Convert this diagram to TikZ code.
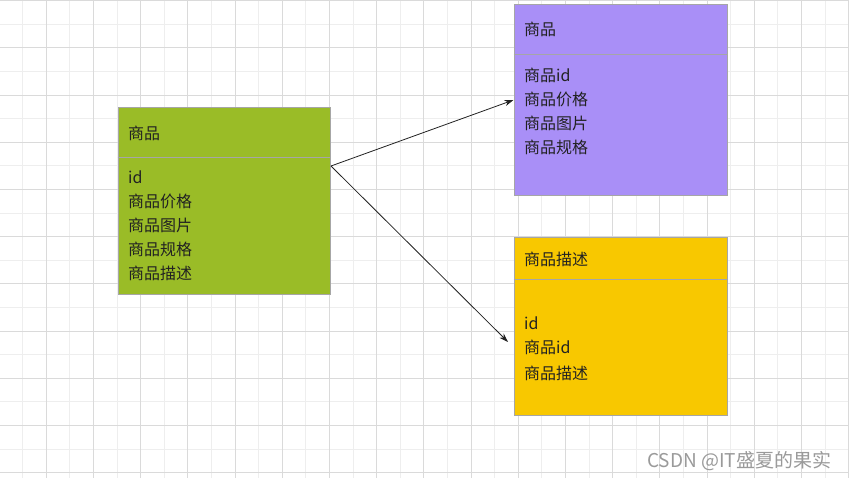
\documentclass[tikz,border=0pt]{standalone}
\usepackage{fontspec}
\setmainfont{Noto Sans CJK SC}
\usetikzlibrary{arrows.meta}
\definecolor{gmin}{HTML}{EEEEEE}
\definecolor{gmaj}{HTML}{DADADA}
\definecolor{boxgreen}{HTML}{9ABC27}
\definecolor{boxpurple}{HTML}{A98FF7}
\definecolor{boxyellow}{HTML}{F8C800}
\definecolor{boxline}{HTML}{A6A6A6}
\definecolor{txt}{HTML}{222222}
\definecolor{wm}{HTML}{9A9A9A}
\tikzset{
  minorline/.style={draw=gmin, line width=1pt},
  majorline/.style={draw=gmaj, line width=1pt},
  entity/.style={draw=boxline, line width=1pt, inner sep=0pt, anchor=north west},
  divider/.style={draw=boxline, line width=0.8pt},
  label/.style={anchor=base west, inner sep=0pt, text=txt, font=\fontsize{16}{19}\selectfont},
  link/.style={draw=txt, line width=0.8pt, -{Stealth[length=9pt,width=6pt]}},
}
\begin{document}
\begin{tikzpicture}[x=1pt,y=-1pt]
\path[use as bounding box] (0,0) rectangle (849,478);
\fill[white] (0,0) rectangle (849,478);
% grid
\foreach \i in {0,...,36} {
  \pgfmathsetmacro{\xx}{-0.9+23.6*\i}
  \pgfmathsetmacro{\yy}{0.7+23.6*\i}
  \draw[minorline] (\xx,0) -- (\xx,478);
  \draw[minorline] (0,\yy) -- (849,\yy);
}
\foreach \i in {0,...,18} {
  \pgfmathsetmacro{\xx}{-0.9+47.2*\i}
  \pgfmathsetmacro{\yy}{0.7+47.2*\i}
  \draw[majorline] (\xx,0) -- (\xx,478);
  \draw[majorline] (0,\yy) -- (849,\yy);
}
% green entity
\node[entity, fill=boxgreen, minimum width=212pt, minimum height=187pt] (goods) at (117.5,107.5) {};
\draw[divider] (117.5,157.3) -- (329.5,157.3);
\node[label] (g0) at (128,140) {商品};
\node[label] (g1) at (128,184) {id};
\node[label] (g2) at (128,208) {商品价格};
\node[label] (g3) at (128,232) {商品图片};
\node[label] (g4) at (128,256) {商品规格};
\node[label] (g5) at (128,280) {商品描述};
% purple entity
\node[entity, fill=boxpurple, minimum width=213pt, minimum height=190.5pt] (info) at (513.5,4.5) {};
\draw[divider] (513.5,54.3) -- (726.5,54.3);
\node[label] (p0) at (524,36) {商品};
\node[label] (p1) at (524,82) {商品id};
\node[label] (p2) at (524,106) {商品价格};
\node[label] (p3) at (524,130) {商品图片};
\node[label] (p4) at (524,154) {商品规格};
% yellow entity
\node[entity, fill=boxyellow, minimum width=213pt, minimum height=177.5pt] (desc) at (513.5,237.5) {};
\draw[divider] (513.5,279.3) -- (726.5,279.3);
\node[label] (y0) at (524,266) {商品描述};
\node[label] (y1) at (524,330) {id};
\node[label] (y2) at (524,354) {商品id};
\node[label] (y3) at (524,379) {商品描述};
% connectors
\coordinate (src) at (331,166);
\coordinate (toinfo) at (513.5,100);
\coordinate (todesc) at (508,342);
\draw[link] (src) -- (toinfo);
\draw[link] (src) -- (todesc);
% watermark
\node[anchor=base west, inner sep=0pt, text=wm, font=\fontsize{19}{21}\selectfont] (mark) at (647,467) {CSDN @IT盛夏的果实};
\end{tikzpicture}
\end{document}
